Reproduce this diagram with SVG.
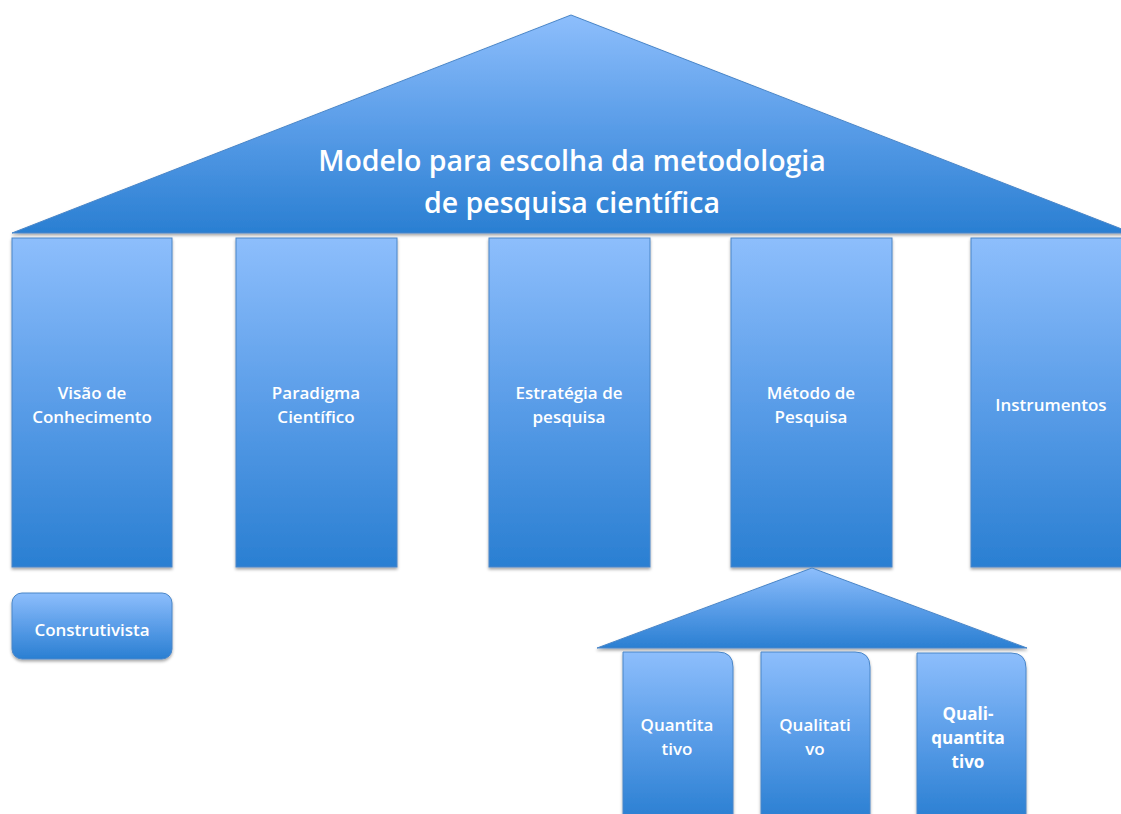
<svg xmlns="http://www.w3.org/2000/svg" width="1121" height="814" viewBox="0 0 1121 814">
<defs>
<linearGradient id="g" x1="0" y1="0" x2="0" y2="1">
<stop offset="0" stop-color="#8dbefc"/>
<stop offset="0.5" stop-color="#5a9de8"/>
<stop offset="1" stop-color="#2a7fd2"/>
</linearGradient>
<filter id="sh" x="-10%" y="-10%" width="120%" height="120%">
<feDropShadow dx="0" dy="2" stdDeviation="1.5" flood-color="#000" flood-opacity="0.35"/>
</filter>
</defs>
<style>
.s{fill:url(#g);stroke:#4a86c8;stroke-width:1;filter:url(#sh)}
.t{font-family:"Open Sans","Noto Sans",sans-serif;fill:#fff;text-anchor:middle;font-size:17px;font-weight:600}
.ti{font-family:"Open Sans","Noto Sans",sans-serif;fill:#fff;text-anchor:middle;font-size:28.5px;font-weight:600}
.b{font-weight:bold}
</style>
<rect width="1121" height="814" fill="#fff"/>
<g id="roof">
<polygon class="s" points="571,15 12,233 1132,233"/>
<text class="ti" x="572" y="171">Modelo para escolha da metodologia</text>
<text class="ti" x="572" y="213">de pesquisa científica</text>
</g>
<g id="visao">
<rect class="s" x="12" y="238" width="160" height="329"/>
<text class="t" x="92" y="399">Visão de</text>
<text class="t" x="92" y="423">Conhecimento</text>
</g>
<g id="paradigma">
<rect class="s" x="236" y="238" width="161" height="329"/>
<text class="t" x="316" y="399">Paradigma</text>
<text class="t" x="316" y="423">Científico</text>
</g>
<g id="estrategia">
<rect class="s" x="489" y="238" width="161" height="329"/>
<text class="t" x="569" y="399">Estratégia de</text>
<text class="t" x="569" y="423">pesquisa</text>
</g>
<g id="metodo">
<rect class="s" x="731" y="238" width="161" height="329"/>
<text class="t" x="811" y="399">Método de</text>
<text class="t" x="811" y="423">Pesquisa</text>
</g>
<g id="instrumentos">
<rect class="s" x="971" y="238" width="161" height="329"/>
<text class="t" x="1051" y="411">Instrumentos</text>
</g>
<g id="construtivista">
<rect class="s" x="12" y="593" width="160" height="66" rx="10"/>
<text class="t" x="92" y="636">Construtivista</text>
</g>
<g id="subroof">
<polygon class="s" points="812,568 597,648 1027,648"/>
</g>
<g id="quantitativo">
<path class="s" d="M623,820 V652 H718 Q733,652 733,667 V820 Z"/>
<text class="t" x="677" y="731">Quantita</text>
<text class="t" x="677" y="755">tivo</text>
</g>
<g id="qualitativo">
<path class="s" d="M761,820 V652 H855 Q870,652 870,667 V820 Z"/>
<text class="t" x="815" y="731">Qualitati</text>
<text class="t" x="815" y="755">vo</text>
</g>
<g id="qualiquantitativo">
<path class="s" d="M917,820 V653 H1011 Q1026,653 1026,668 V820 Z"/>
<text class="t b" x="968" y="720">Quali-</text>
<text class="t b" x="968" y="744">quantita</text>
<text class="t b" x="968" y="768">tivo</text>
</g>
<g id="connectors"/>
</svg>
